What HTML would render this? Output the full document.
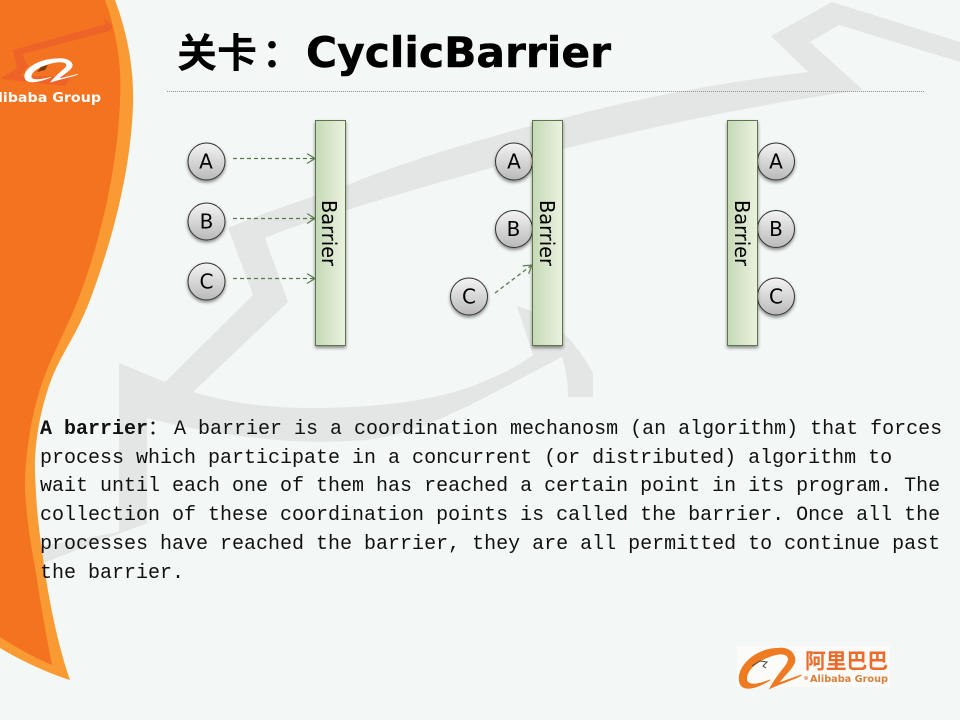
<!DOCTYPE html>
<html><head><meta charset="utf-8"><style>
html,body{margin:0;padding:0;background:#f3f7f5}
svg{display:block}
</style></head><body>
<svg xmlns="http://www.w3.org/2000/svg" width="960" height="720" viewBox="0 0 960 720">
<defs>
<linearGradient id="bar" x1="0" x2="1" y1="0" y2="0"><stop offset="0" stop-color="#c5d9b6"/><stop offset="1" stop-color="#ebf2e0"/></linearGradient>
<linearGradient id="ball" x1="0" x2="0" y1="0" y2="1"><stop offset="0" stop-color="#f4f4f4"/><stop offset="1" stop-color="#b9b9b9"/></linearGradient>
<filter id="sh" x="-30%" y="-30%" width="160%" height="160%"><feDropShadow dx="0" dy="2" stdDeviation="1.5" flood-color="#000" flood-opacity=".45"/></filter>
<marker id="ah" markerWidth="12" markerHeight="12" refX="9" refY="5" orient="auto" markerUnits="userSpaceOnUse"><path d="M1 0L9 5L1 10" fill="none" stroke="#5a7a4a" stroke-width="1.2"/></marker>
<path id="logo" d="M175 55C110 55 45 110 60 160C70 185 110 175 150 150C100 170 75 165 80 140C85 110 130 80 175 72C205 70 215 85 195 110C175 135 160 155 150 175C180 160 220 150 245 135C215 145 190 155 175 160C195 130 235 105 222 78C215 60 195 52 175 55Z"/>
</defs>
<rect width="960" height="720" fill="#f3f7f5"/>

<!-- background arrow -->
<path fill="#e3e6e5" d="M832 2L960 42V62L839 25L810 42L863 90C800 98 700 115 567 148C500 165 440 182 363 205C330 216 295 225 265 238L288 302L193 392C230 403 270 408 308 408C380 408 440 400 480 383C500 375 520 365 533 355L517 306C550 315 575 340 593 373V397H568C568 380 566 370 562 357L480 400C430 425 390 441 347 441C280 445 200 432 147 418V523L43 563V546L119 532V363L165 382L253 295L228 228C270 210 310 198 347 185C380 172 400 165 440 152C480 140 520 128 567 117C620 103 700 85 808 72L771 36Z"/>

<!-- left orange band -->
<path d="M0 0H115C128 35 134 70 133 105C131 160 118 225 90 300C76 337 60 355 50 383C40 411 34 445 35 473C36 500 38 525 42 550C47 590 56 640 70 680C45 672 20 660 0 648Z" fill="#fa9a33"/>
<path d="M0 0H105C117 33 122 68 120 100C118 160 103 235 78 300C67 328 52 355 43 380C33 408 25 450 25 487C26 515 30 540 35 567C40 600 46 635 52 665C35 658 15 647 0 637Z" fill="#f47321"/>
<path d="M113 26L103 18L106 24L13 50L17 68L0 79L65 86L72 76L20 76L28 66L22 54L110 31Z" fill="#ee6428"/>
<use href="#logo" fill="#fff" stroke="#fff" stroke-width="3" transform="translate(8.4 47.9) scale(.284 .195)"/>
<path d="M37 72L41 67L48 65L45 70Z" fill="#7a3a10"/>
<text x="-13" y="102" font-family="DejaVu Sans,sans-serif" font-weight="700" font-size="13" fill="#fff" textLength="114" lengthAdjust="spacingAndGlyphs">Alibaba Group</text>

<!-- title -->
<text x="177" y="67" font-family="Noto Sans CJK SC,sans-serif" font-size="40" font-weight="700" fill="#000">关卡</text>
<text x="262" y="67" font-family="Noto Sans CJK SC,sans-serif" font-size="40" font-weight="700" fill="#000">：</text>
<text x="306" y="67" font-family="DejaVu Sans,sans-serif" font-size="42" font-weight="700" fill="#000" stroke="#000" stroke-width=".5" textLength="305" lengthAdjust="spacingAndGlyphs">CyclicBarrier</text>
<line x1="167" y1="91.5" x2="924" y2="91.5" stroke="#8d938e" stroke-width="1" stroke-dasharray="1 1"/>

<!-- circles under barriers -->
<g stroke="#333" stroke-width="1" fill="url(#ball)" filter="url(#sh)">
<circle cx="206.5" cy="161.5" r="18.5"/><circle cx="206.5" cy="221.5" r="18.5"/><circle cx="206.5" cy="281.5" r="18.5"/>
<circle cx="514" cy="161.5" r="18.5"/><circle cx="514" cy="229" r="18.5"/><circle cx="469" cy="296.5" r="18.5"/>
<circle cx="776" cy="161.5" r="18.5"/><circle cx="776" cy="229" r="18.5"/><circle cx="776" cy="296.5" r="18.5"/>
</g>

<!-- barriers -->
<g fill="url(#bar)" stroke="#5b7548" stroke-width="1" filter="url(#sh)">
<rect x="315.5" y="120.5" width="30" height="225"/>
<rect x="532.5" y="120.5" width="30" height="225"/>
<rect x="727.5" y="120.5" width="30" height="225"/>
</g>

<!-- circle labels -->
<g font-family="DejaVu Sans,sans-serif" font-size="20" fill="#000" text-anchor="middle">
<text x="206" y="168.5">A</text><text x="206.5" y="228.5">B</text><text x="206.5" y="288.5">C</text>
<text x="514" y="168.5">A</text><text x="513.5" y="236">B</text><text x="469" y="303.5">C</text>
<text x="776" y="168.5">A</text><text x="776" y="236">B</text><text x="776" y="303.5">C</text>
</g>

<!-- barrier labels -->
<g font-family="DejaVu Sans,sans-serif" font-size="20" fill="#000">
<text transform="translate(322 200) rotate(90)" textLength="66" lengthAdjust="spacingAndGlyphs">Barrier</text>
<text transform="translate(540 200) rotate(90)" textLength="66" lengthAdjust="spacingAndGlyphs">Barrier</text>
<text transform="translate(735 200) rotate(90)" textLength="66" lengthAdjust="spacingAndGlyphs">Barrier</text>
</g>

<!-- arrows -->
<g stroke="#5a7a4a" stroke-width="1.3" stroke-dasharray="4 3" fill="none">
<line x1="233" y1="158.5" x2="315" y2="158.5" marker-end="url(#ah)"/>
<line x1="233" y1="218.5" x2="315" y2="218.5" marker-end="url(#ah)"/>
<line x1="233" y1="278.5" x2="315" y2="278.5" marker-end="url(#ah)"/>
<line x1="495" y1="293" x2="532" y2="265" marker-end="url(#ah)"/>
</g>

<!-- body text -->
<g font-family="Liberation Mono,Noto Sans CJK SC,monospace" font-size="20" fill="#111" xml:space="preserve">
<text x="40" y="434"><tspan font-weight="700">A barrier</tspan></text>
<text x="148" y="434" font-family="Noto Sans CJK SC,sans-serif" font-size="20">：</text>
<text x="174" y="434">A barrier is a coordination mechanosm (an algorithm) that forces</text>
<text x="40" y="463">process which participate in a concurrent (or distributed) algorithm to</text>
<text x="40" y="491">wait until each one of them has reached a certain point in its program. The</text>
<text x="40" y="520">collection of these coordination points is called the barrier. Once all the</text>
<text x="40" y="549">processes have reached the barrier, they are all permitted to continue past</text>
<text x="40" y="578">the barrier.</text>
</g>

<!-- bottom logo -->
<rect x="737" y="646" width="153" height="41" fill="#fbfbf9"/>
<use href="#logo" fill="#ee7a22" stroke="#ee7a22" stroke-width="3" transform="translate(720 630) scale(.3333)"/>
<path d="M752 666L760 661L767 662L763 666L766 668" fill="none" stroke="#444" stroke-width="1"/>
<text x="805" y="668.5" font-family="Noto Sans CJK SC,sans-serif" font-size="21" font-weight="700" fill="#ec6a2a" textLength="83" lengthAdjust="spacingAndGlyphs">阿里巴巴</text>
<circle cx="806" cy="678" r="2" fill="#e8b08a"/>
<text x="810" y="682" font-family="DejaVu Sans,sans-serif" font-size="10" font-weight="700" fill="#d9803a" textLength="78" lengthAdjust="spacingAndGlyphs">Alibaba Group</text>
</svg>
</body></html>
